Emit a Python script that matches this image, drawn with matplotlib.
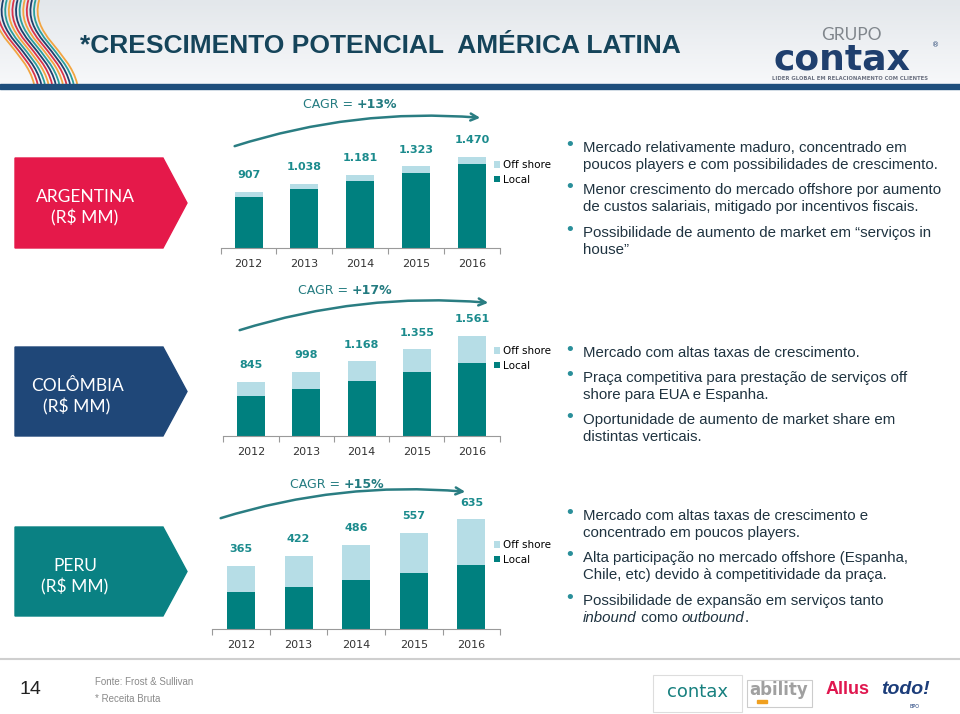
import numpy as np
import matplotlib
matplotlib.use('Agg')
import matplotlib.pyplot as plt
from matplotlib.patches import Polygon, Rectangle, FancyArrowPatch, PathPatch
from matplotlib.path import Path
from matplotlib.colors import LinearSegmentedColormap

# ─── Data (R$ MM) ───
years = ['2012', '2013', '2014', '2015', '2016']

arg_local = [822, 950, 1085, 1217, 1355]
arg_off = [85, 88, 96, 106, 115]

col_local = [630, 739, 862, 997, 1145]
col_off = [215, 259, 306, 358, 416]

per_local = [212, 244, 283, 323, 369]
per_off = [153, 178, 203, 234, 266]

cagr = {'ARGENTINA': '+13%', 'COLÔMBIA': '+17%', 'PERU': '+15%'}

# ─── Style ───
LOCAL = '#00807f'
OFF = '#b6dde6'
TEAL_TXT = '#1b8b8d'
CAGR_C = '#237b80'
BODY = '#1f3340'

ARIAL = ['Liberation Sans', 'DejaVu Sans']
HUMAN = ['Lato', 'DejaVu Sans']

W, H = 960, 714
fig = plt.figure(figsize=(9.6, 7.14), dpi=100)
ax0 = fig.add_axes([0, 0, 1, 1])
ax0.axis('off')

# header gradient + blue rule
grad = LinearSegmentedColormap.from_list('g', ['#e3e7eb', '#f7f8fa'])
ax0.imshow(np.linspace(0, 1, 60).reshape(-1, 1), cmap=grad, aspect='auto',
           extent=(0, W, 84, 0), zorder=0)
ax0.add_patch(Rectangle((0, 84), W, 5, color='#1e4e7c', zorder=2))
ax0.set_xlim(0, W)
ax0.set_ylim(H, 0)

# decorative waves top-left
wave_cols = ['#f2a541', '#d8334a', '#1f3f6d', '#2a9d9b']
for i in range(13):
    x0 = -4 + 3.6 * i
    verts = [(x0, 0), (x0 - 10, 35), (x0 + 30, 50), (x0 + 38, 84)]
    p = Path(verts, [Path.MOVETO, Path.CURVE4, Path.CURVE4, Path.CURVE4])
    ax0.add_patch(PathPatch(p, fc='none', ec=wave_cols[i % 4], lw=1.3, zorder=1))

# title
ax0.text(80, 46, '*CRESCIMENTO POTENCIAL  AMÉRICA LATINA', fontsize=19,
         fontweight='bold', family=ARIAL, color='#15445a', va='center', zorder=3)

# logo top right
ax0.text(851, 35, 'GRUPO', fontsize=12.5, color='#80868c', family=HUMAN,
         ha='center', va='center', zorder=3)
ax0.text(842, 69, 'contax', fontsize=26, color='#1f3f6e', fontweight='bold',
         ha='center', va='baseline', zorder=3)
ax0.text(936, 45, '®', fontsize=5, color='#1f3f6e', ha='center', va='center', zorder=3)
ax0.text(850, 78, 'LIDER GLOBAL EM RELACIONAMENTO COM CLIENTES', fontsize=3.8,
         color='#6a7080', fontweight='bold', ha='center', va='center', zorder=3)


def fmt(v):
    return f'{v:,}'.replace(',', '.')


def panel(name, color, box_top, box_bot, text_x, c0, sp, base, scale,
          local, off, cagr_xy, split_x, arrow_a, arrow_b, legend_y, bullets):
    # pentagon label
    mid = (box_top + box_bot) / 2
    ax0.add_patch(Polygon([(15, box_top), (163, box_top), (187, mid),
                           (163, box_bot), (15, box_bot)], closed=True,
                          color=color, zorder=2))
    ax0.text(text_x, mid + 5, name + '\n(R$ MM)', fontsize=12.5, color='white',
             family=HUMAN, ha='center', va='center', linespacing=1.3, zorder=3)

    # stacked bars
    hpx = 125
    left = c0 - sp / 2
    ax = fig.add_axes([left / W, 1 - base / H, 5 * sp / W, hpx / H])
    ax.patch.set_alpha(0)
    x = np.arange(len(years))
    bw = 28 / sp
    b_off = ax.bar(x, off, bw, bottom=local, color=OFF, label='Off shore')
    b_loc = ax.bar(x, local, bw, color=LOCAL, label='Local')
    totals = [a + b for a, b in zip(local, off)]
    for xi, t in zip(x, totals):
        ax.annotate(fmt(t), (xi, t), xytext=(0, 12), textcoords='offset points',
                    ha='center', va='center', fontsize=8, fontweight='bold',
                    color=TEAL_TXT)
    ax.set_xlim(-0.5, 4.5)
    ax.set_ylim(0, hpx / scale)
    ax.set_xticks(x, years)
    ax.set_xticks(np.arange(-0.5, 5), minor=True)
    ax.tick_params(axis='x', which='major', length=0, pad=8, labelsize=8,
                   labelcolor='#333333')
    ax.tick_params(axis='x', which='minor', length=4, color='#9a9a9a', width=0.8)
    ax.set_yticks([])
    for s in ['top', 'right', 'left']:
        ax.spines[s].set_visible(False)
    ax.spines['bottom'].set_color('#9a9a9a')
    ax.spines['bottom'].set_linewidth(0.8)
    ax.legend(handles=[b_off, b_loc], loc='upper left',
              bbox_to_anchor=(494 / W, 1 - (legend_y - 7) / H),
              bbox_transform=fig.transFigure, frameon=False, fontsize=7.5,
              handlelength=0.6, handleheight=0.6, handletextpad=0.3,
              labelspacing=0.45, borderpad=0, borderaxespad=0)

    # CAGR text + arrow
    ax0.text(split_x, cagr_xy, 'CAGR = ', fontsize=9, color=CAGR_C, ha='right',
             va='center', zorder=3)
    ax0.text(split_x, cagr_xy, cagr[name], fontsize=9, color=CAGR_C, ha='left',
             va='center', fontweight='bold', zorder=3)
    ax0.add_patch(FancyArrowPatch(arrow_a, arrow_b,
                                  connectionstyle='arc3,rad=-0.1',
                                  arrowstyle='->,head_length=5,head_width=2.5',
                                  lw=1.8, color='#2a7d82', zorder=3))

    # bullet text
    for y, line, new in bullets:
        if new:
            ax0.text(570, y - 3, '•', fontsize=13, color='#2a8f9a', ha='center',
                     va='center', zorder=3)
        if isinstance(line, str):
            ax0.text(583, y, line, fontsize=10.8, family=ARIAL, color=BODY,
                     va='center', zorder=3)
        else:
            xx = 583
            r = fig.canvas.get_renderer()
            for seg, style in line:
                t = ax0.text(xx, y, seg, fontsize=10.8, family=ARIAL, color=BODY,
                             style=style, va='center', zorder=3)
                bb = t.get_window_extent(renderer=r)
                xx += bb.width


panel('ARGENTINA', '#e5194a', 158, 248, 85, 248.5, 55.9, 248, 0.0618,
      arg_local, arg_off, 105, 357, (232, 147), (483, 118), 167,
      [(148, 'Mercado relativamente maduro, concentrado em', True),
       (165, 'poucos players e com possibilidades de crescimento.', False),
       (190, 'Menor crescimento do mercado offshore por aumento', True),
       (207, 'de custos salariais, mitigado por incentivos fiscais.', False),
       (233, 'Possibilidade de aumento de market em \u201cservi\u00e7os in', True),
       (250, 'house\u201d', False)])

panel('COLÔMBIA', '#1f4778', 347, 436, 77, 251, 55.25, 436, 0.064,
      col_local, col_off, 291, 352, (237, 331), (491, 303), 353,
      [(353, 'Mercado com altas taxas de crescimento.', True),
       (378, 'Praça competitiva para prestação de serviços off', True),
       (395, 'shore para EUA e Espanha.', False),
       (420, 'Oportunidade de aumento de market share em', True),
       (437, 'distintas verticais.', False)])

panel('PERU', '#0a8183', 527, 616, 75, 241, 57.6, 629, 0.1726,
      per_local, per_off, 485, 344, (218, 519), (468, 492), 547,
      [(516, 'Mercado com altas taxas de crescimento e', True),
       (533, 'concentrado em poucos players.', False),
       (558, 'Alta participação no mercado offshore (Espanha,', True),
       (575, 'Chile, etc) devido à competitividade da praça.', False),
       (601, 'Possibilidade de expansão em serviços tanto', True),
       (618, [('inbound', 'italic'), (' como ', 'normal'),
              ('outbound', 'italic'), ('.', 'normal')], False)])

# footer
ax0.plot([0, W], [659, 659], color='#cfcfcf', lw=1.5, zorder=2)
ax0.text(30, 689, '14', fontsize=14, family=ARIAL, color='#222222',
         ha='center', va='center')
ax0.text(95, 682, 'Fonte: Frost & Sullivan', fontsize=7, family=ARIAL,
         color='#8a8a8a', va='center')
ax0.text(95, 699, '* Receita Bruta', fontsize=7, family=ARIAL,
         color='#8a8a8a', va='center')

ax0.add_patch(Rectangle((653, 675), 89, 37, fc='white', ec='#dddddd', lw=0.8))
ax0.text(697, 692, 'contax', fontsize=13, color='#17807f', ha='center', va='center')
ax0.add_patch(Rectangle((747, 680), 65, 27, fc='white', ec='#cccccc', lw=0.8))
ax0.text(779, 690, 'ability', fontsize=12, color='#a0a0a0', fontweight='bold',
         ha='center', va='center')
ax0.add_patch(Rectangle((757, 700), 10, 3, color='#f0a020'))
ax0.text(848, 689, 'Allus', fontsize=13, color='#e0174f', fontweight='bold',
         family=ARIAL, ha='center', va='center')
ax0.text(905, 689, 'todo!', fontsize=14, color='#1c3d7a', fontweight='bold',
         style='italic', family=ARIAL, ha='center', va='center')
ax0.text(915, 707, 'BPO', fontsize=3.5, color='#1c3d7a', ha='center', va='center')

plt.savefig('out.png', dpi=100)
